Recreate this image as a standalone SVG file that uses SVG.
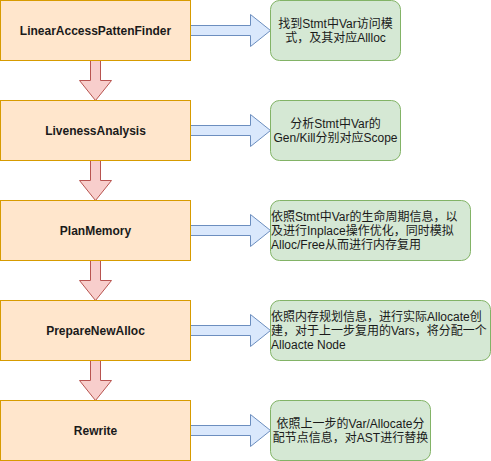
<svg xmlns="http://www.w3.org/2000/svg" width="491" height="461" viewBox="0 0 491 461">
<style>
.step{fill:#ffe6cc;stroke:#d79b00;stroke-width:1}
.note{fill:#d5e8d4;stroke:#82b366;stroke-width:1}
.down{fill:#f8cecc;stroke:#b85450;stroke-width:1;stroke-linejoin:miter}
.right{fill:#dae8fc;stroke:#6c8ebf;stroke-width:1;stroke-linejoin:miter}
text{font-family:"Liberation Sans","Noto Sans CJK SC",Arial,sans-serif;font-size:12px;fill:#1a1a1a}
.b{font-weight:bold;text-anchor:middle}
.c{text-anchor:middle}
</style>
<rect width="491" height="461" fill="#ffffff"/>
<g id="connectors">
<path class="down" d="M90.5,60.5 V80.5 H79.5 L95.5,100.5 L111.5,80.5 H100.5 V60.5 Z"/>
<path class="down" d="M90.5,160.5 V180.5 H79.5 L95.5,200.5 L111.5,180.5 H100.5 V160.5 Z"/>
<path class="down" d="M90.5,260.5 V280.5 H79.5 L95.5,300.5 L111.5,280.5 H100.5 V260.5 Z"/>
<path class="down" d="M90.5,360.5 V380.5 H79.5 L95.5,400.5 L111.5,380.5 H100.5 V360.5 Z"/>
<path class="right" d="M190.5,25.5 H250.5 V14.5 L270.5,30.5 L250.5,46.5 V35.5 H190.5 Z"/>
<path class="right" d="M190.5,125.5 H250.5 V114.5 L270.5,130.5 L250.5,146.5 V135.5 H190.5 Z"/>
<path class="right" d="M190.5,225.5 H250.5 V214.5 L270.5,230.5 L250.5,246.5 V235.5 H190.5 Z"/>
<path class="right" d="M190.5,325.5 H250.5 V314.5 L270.5,330.5 L250.5,346.5 V335.5 H190.5 Z"/>
<path class="right" d="M190.5,425.5 H250.5 V414.5 L270.5,430.5 L250.5,446.5 V435.5 H190.5 Z"/>
</g>
<g id="step1"><rect class="step" x="0.5" y="0.5" width="190" height="60"/><text class="b" x="95.5" y="34.5">LinearAccessPattenFinder</text></g>
<g id="step2"><rect class="step" x="0.5" y="100.5" width="190" height="60"/><text class="b" x="95.5" y="134.5">LivenessAnalysis</text></g>
<g id="step3"><rect class="step" x="0.5" y="200.5" width="190" height="60"/><text class="b" x="95.5" y="234.5">PlanMemory</text></g>
<g id="step4"><rect class="step" x="0.5" y="300.5" width="190" height="60"/><text class="b" x="95.5" y="334.5">PrepareNewAlloc</text></g>
<g id="step5"><rect class="step" x="0.5" y="400.5" width="190" height="60"/><text class="b" x="95.5" y="434.5">Rewrite</text></g>
<g id="note1"><rect class="note" x="270.5" y="0.5" width="130" height="60" rx="9"/><text class="c" x="335.5" y="27.5">找到Stmt中Var访问模</text><text class="c" x="335.5" y="41.5">式，及其对应Allloc</text></g>
<g id="note2"><rect class="note" x="270.5" y="100.5" width="130" height="60" rx="9"/><text class="c" x="335.5" y="127.5">分析Stmt中Var的</text><text class="c" x="335.5" y="141.5">Gen/Kill分别对应Scope</text></g>
<g id="note3"><rect class="note" x="270.5" y="200.5" width="200" height="60" rx="9"/><text x="271" y="220.5">依照Stmt中Var的生命周期信息，以</text><text x="271" y="234.5">及进行Inplace操作优化，同时模拟</text><text x="271" y="248.5">Alloc/Free从而进行内存复用</text></g>
<g id="note4"><rect class="note" x="270.5" y="300.5" width="220" height="60" rx="9"/><text x="271" y="320.5">依照内存规划信息，进行实际Allocate创</text><text x="271" y="334.5">建，对于上一步复用的Vars，将分配一个</text><text x="271" y="348.5">Alloacte Node</text></g>
<g id="note5"><rect class="note" x="270.5" y="400.5" width="160" height="60" rx="9"/><text class="c" x="350.5" y="427.5">依照上一步的Var/Allocate分</text><text class="c" x="350.5" y="441.5">配节点信息，对AST进行替换</text></g>
</svg>
